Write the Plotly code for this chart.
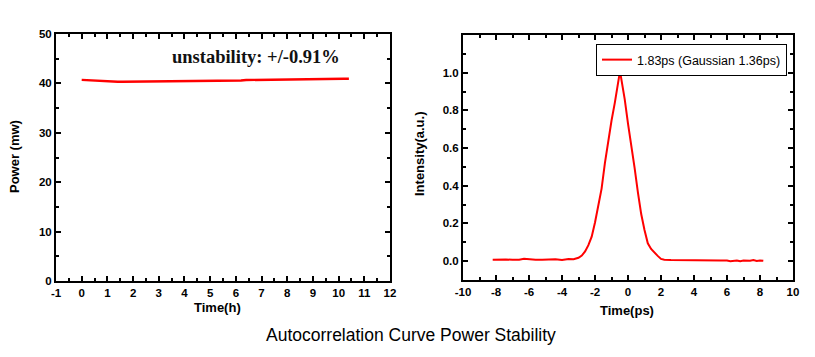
import plotly.graph_objects as go

# ---- Data: power stability ----
power_time = [0.0, 0.2, 0.4, 0.6, 0.8, 1.0, 1.2, 1.4, 1.6, 1.8, 2.0, 2.2, 2.4, 2.6, 2.8,
              3.0, 3.2, 3.4, 3.6, 3.8, 4.0, 4.2, 4.4, 4.6, 4.8, 5.0, 5.2, 5.4, 5.6, 5.8,
              6.0, 6.2, 6.4, 6.6, 6.8, 7.0, 7.2, 7.4, 7.6, 7.8, 8.0, 8.2, 8.4, 8.6, 8.8,
              9.0, 9.2, 9.4, 9.6, 9.8, 10.0, 10.2, 10.4]
power_mw = [40.72, 40.66, 40.62, 40.55, 40.40, 40.36, 40.34, 40.34, 40.33, 40.34, 40.34,
            40.33, 40.34, 40.34, 40.35, 40.34, 40.35, 40.38, 40.46, 40.45, 40.46, 40.47,
            40.46, 40.40, 40.47, 40.48, 40.49, 40.50, 40.50, 40.52, 40.53, 40.60, 40.68,
            40.70, 40.66, 40.62, 40.64, 40.66, 40.72, 40.76, 40.80, 40.78, 40.80, 40.82,
            40.80, 40.83, 40.86, 40.84, 40.90, 40.92, 40.93, 40.94, 40.93]

# ---- Data: autocorrelation curve ----
ac_time = [-8.2, -7.8, -7.4, -7.0, -6.6, -6.3, -6.0, -5.6, -5.2, -4.8, -4.4, -4.0, -3.6,
           -3.3, -3.0, -2.8, -2.6, -2.4, -2.2, -2.0, -1.8, -1.6, -1.4, -1.2, -1.0, -0.8,
           -0.7, -0.6, -0.55, -0.5, -0.45, -0.4, -0.3, -0.2, 0.0, 0.2, 0.4, 0.6, 0.8,
           1.0, 1.2, 1.4, 1.6, 1.8, 2.0, 2.2, 2.6, 3.0, 3.3, 3.6, 4.0, 4.4, 4.8, 5.2,
           5.6, 6.0, 6.2, 6.6, 6.8, 7.0, 7.4, 7.6, 7.8, 8.0, 8.2]
ac_intensity = [0.008, 0.010, 0.009, 0.007, 0.008, 0.013, 0.010, 0.008, 0.007, 0.010,
                0.010, 0.006, 0.012, 0.010, 0.018, 0.030, 0.052, 0.085, 0.130, 0.205,
                0.290, 0.385, 0.520, 0.640, 0.745, 0.840, 0.900, 0.960, 0.990, 1.000,
                0.990, 0.965, 0.915, 0.860, 0.730, 0.620, 0.495, 0.365, 0.250, 0.165,
                0.095, 0.065, 0.045, 0.028, 0.012, 0.008, 0.006, 0.006, 0.008, 0.005,
                0.005, 0.004, 0.004, 0.004, 0.004, 0.003, 0.000, 0.004, 0.000, 0.003,
                0.002, 0.006, 0.001, 0.004, 0.002]

left_xticks = [-1, 0, 1, 2, 3, 4, 5, 6, 7, 8, 9, 10, 11, 12]
left_yticks = [0, 10, 20, 30, 40, 50]
right_xticks = [-10, -8, -6, -4, -2, 0, 2, 4, 6, 8, 10]
right_yticks = [0.0, 0.2, 0.4, 0.6, 0.8, 1.0]
right_ytext = ["0.0", "0.2", "0.4", "0.6", "0.8", "1.0"]

W, H = 815, 357
def px_x(p): return p / W
def px_y(p): return 1 - p / H
def b(vals): return ["<b>%s</b>" % v for v in vals]

fig = go.Figure()
fig.add_trace(go.Scatter(x=power_time, y=power_mw, mode="lines",
                         line=dict(color="#ff0000", width=2.4), showlegend=False,
                         xaxis="x", yaxis="y"))
fig.add_trace(go.Scatter(x=ac_time, y=ac_intensity, mode="lines",
                         line=dict(color="#ff0000", width=2),
                         name="1.83ps (Gaussian 1.36ps)", showlegend=True,
                         xaxis="x2", yaxis="y2"))

tickfont = dict(family="Arial, Liberation Sans, sans-serif", size=11.5, color="#000000")
common = dict(showgrid=False, zeroline=False, showline=True, linecolor="#000000",
              linewidth=2, mirror="ticks", ticks="inside", ticklen=5, tickwidth=1.5,
              tickcolor="#000000", tickfont=tickfont, automargin=False)
def minor(d):
    return dict(dtick=d, ticks="inside", ticklen=3, tickwidth=1.5, tickcolor="#000000")

fig.update_layout(
    width=W, height=H,
    margin=dict(l=0, r=0, t=0, b=0, autoexpand=False),
    paper_bgcolor="white", plot_bgcolor="white",
    xaxis=dict(domain=[px_x(56), px_x(390)], range=[-1, 12], tickvals=left_xticks,
               ticktext=b(left_xticks), minor=minor(0.5), anchor="y", **common),
    yaxis=dict(domain=[px_y(281), px_y(34)], range=[0, 50], tickvals=left_yticks,
               ticktext=b(left_yticks), minor=minor(5), anchor="x", **common),
    xaxis2=dict(domain=[px_x(463), px_x(793)], range=[-10, 10], tickvals=right_xticks,
                ticktext=b(right_xticks), minor=minor(1), anchor="y2", **common),
    yaxis2=dict(domain=[px_y(280), px_y(35)], range=[-0.1, 1.2], tickvals=right_yticks,
                ticktext=b(right_ytext), minor=minor(0.1), anchor="x2", **common),
    legend=dict(x=px_x(787), y=px_y(44), xanchor="right", yanchor="top",
                bgcolor="white", bordercolor="#000000", borderwidth=1,
                font=dict(family="Arial, Liberation Sans, sans-serif", size=12.5,
                          color="#000000"),
                tracegroupgap=0, itemwidth=30),
)

bold = dict(family="Arial, Liberation Sans, sans-serif", size=13, color="#000000")
annots = [
    dict(text="<b>Power (mw)</b>", x=px_x(14), y=px_y(157), textangle=-90, font=bold),
    dict(text="<b>Time(h)</b>", x=px_x(217), y=px_y(307), font=bold),
    dict(text="<b>Intensity(a.u.)</b>", x=px_x(419), y=px_y(154), textangle=-90, font=bold),
    dict(text="<b>Time(ps)</b>", x=px_x(627), y=px_y(310), font=bold),
    dict(text="<b>unstability: +/-0.91%</b>", x=px_x(256), y=px_y(57),
         font=dict(family="Liberation Serif, DejaVu Serif, serif", size=18.5, color="#111111")),
    dict(text="Autocorrelation Curve Power Stability", x=px_x(411), y=px_y(335),
         font=dict(family="Arial, Liberation Sans, sans-serif", size=17.5, color="#000000")),
]
for a in annots:
    fig.add_annotation(xref="paper", yref="paper", showarrow=False,
                       xanchor="center", yanchor="middle", **a)

fig.write_html("out.html", config={"displayModeBar": False},
               post_script="document.body.style.margin='0';document.body.style.padding='0';")
